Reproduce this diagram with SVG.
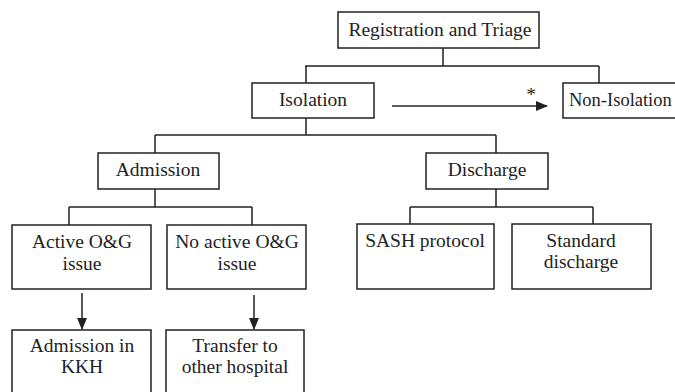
<svg xmlns="http://www.w3.org/2000/svg" width="675" height="392" viewBox="0 0 675 392">
<style>
.box{fill:#fff;stroke:#222;stroke-width:1.5}
.ln{fill:none;stroke:#222;stroke-width:1.5}
text{font-family:"Liberation Serif","Times New Roman",serif;font-size:19.5px;fill:#222;text-anchor:middle}
</style>
<defs>
<marker id="ah" markerWidth="12" markerHeight="10" refX="11" refY="5" orient="auto" markerUnits="userSpaceOnUse">
<path d="M0,0 L12,5 L0,10 Z" fill="#222"/>
</marker>
</defs>
<rect width="675" height="392" fill="#fff"/>
<g id="connectors">
<path class="ln" d="M443,48 V66 M305,66 H599 M306,66 V83 M599,66 V83"/>
<path class="ln" d="M306,118 V135 M155,135 H496 M155,135 V153 M496,135 V153"/>
<path class="ln" d="M155,189 V207 M69,207 H252 M69,207 V225 M252,207 V225"/>
<path class="ln" d="M496,189 V207 M410,207 H593 M410,207 V224 M593,207 V224"/>
<path class="ln" d="M392,106 H547" marker-end="url(#ah)"/>
<path class="ln" d="M82,293 V329" marker-end="url(#ah)"/>
<path class="ln" d="M254,295 V329" marker-end="url(#ah)"/>
<text x="531" y="101">*</text>
</g>
<g id="registration"><rect class="box" x="338" y="12" width="201" height="36"/><text x="440" y="36">Registration and Triage</text></g>
<g id="isolation"><rect class="box" x="252" y="83" width="122" height="35"/><text x="313" y="106">Isolation</text></g>
<g id="non-isolation"><rect class="box" x="563" y="83" width="120" height="35"/><text x="569" y="106" style="text-anchor:start;font-size:18.5px">Non-Isolation</text></g>
<g id="admission"><rect class="box" x="98" y="153" width="121" height="36"/><text x="158" y="176">Admission</text></g>
<g id="discharge"><rect class="box" x="426" y="153" width="122" height="36"/><text x="487" y="176">Discharge</text></g>
<g id="active"><rect class="box" x="12" y="225" width="139" height="64"/><text x="82" y="248">Active O&amp;G</text><text x="82" y="270">issue</text></g>
<g id="noactive"><rect class="box" x="167" y="225" width="139" height="64"/><text x="237" y="248">No active O&amp;G</text><text x="237" y="270">issue</text></g>
<g id="sash"><rect class="box" x="357" y="224" width="137" height="65"/><text x="425" y="247">SASH protocol</text></g>
<g id="standard"><rect class="box" x="512" y="224" width="139" height="65"/><text x="581" y="247">Standard</text><text x="581" y="268">discharge</text></g>
<g id="kkh"><rect class="box" x="12" y="330" width="139" height="70"/><text x="82" y="352">Admission in</text><text x="82" y="373">KKH</text></g>
<g id="transfer"><rect class="box" x="166" y="330" width="138" height="70"/><text x="235" y="352">Transfer to</text><text x="235" y="373">other hospital</text></g>
</svg>
